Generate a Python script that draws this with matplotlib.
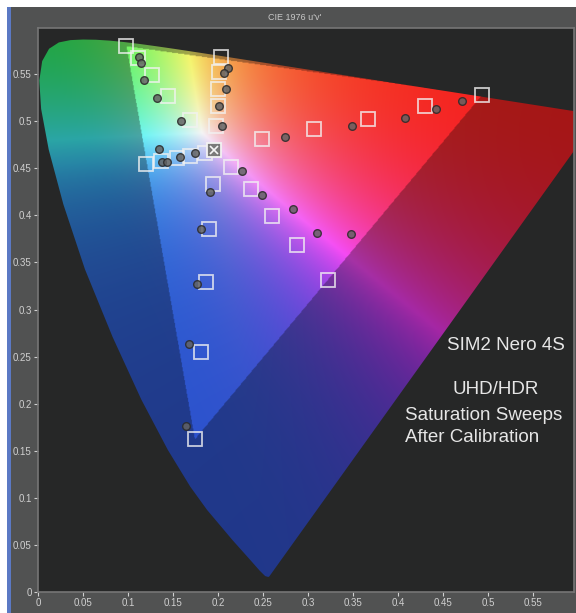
import numpy as np
import matplotlib
matplotlib.use("Agg")
import matplotlib.pyplot as plt
from matplotlib.patches import Polygon, Rectangle
from matplotlib.path import Path

# CIE 1931 2-degree spectral locus (x, y), converted to u'v' below
wavelengths = [380, 400, 420, 430, 440, 450, 460, 465, 470, 475, 480, 485, 490, 495,
               500, 505, 510, 515, 520, 525, 530, 535, 540, 545, 550, 555, 560, 565,
               570, 575, 580, 585, 590, 595, 600, 610, 620, 630, 640, 650, 660, 680, 700]
locus_x = [0.1741, 0.1733, 0.1714, 0.1689, 0.1644, 0.1566, 0.1440, 0.1355, 0.1241, 0.1096,
           0.0913, 0.0687, 0.0454, 0.0235, 0.0082, 0.0039, 0.0139, 0.0389, 0.0743, 0.1142,
           0.1547, 0.1929, 0.2296, 0.2658, 0.3016, 0.3373, 0.3731, 0.4087, 0.4441, 0.4788,
           0.5125, 0.5448, 0.5752, 0.6029, 0.6270, 0.6658, 0.6915, 0.7079, 0.7190, 0.7260,
           0.7300, 0.7334, 0.7347]
locus_y = [0.0050, 0.0048, 0.0051, 0.0069, 0.0109, 0.0177, 0.0297, 0.0399, 0.0578, 0.0868,
           0.1327, 0.2007, 0.2950, 0.4127, 0.5384, 0.6548, 0.7502, 0.8120, 0.8338, 0.8262,
           0.8059, 0.7816, 0.7543, 0.7243, 0.6923, 0.6589, 0.6245, 0.5896, 0.5547, 0.5202,
           0.4866, 0.4544, 0.4242, 0.3965, 0.3725, 0.3340, 0.3083, 0.2920, 0.2809, 0.2740,
           0.2700, 0.2666, 0.2653]

# Targets (squares), saturation sweeps 100% -> 20%
tgt_red_u = [0.493, 0.430, 0.366, 0.306, 0.249]
tgt_red_v = [0.528, 0.516, 0.502, 0.492, 0.481]
tgt_yel_u = [0.203, 0.201, 0.200, 0.200, 0.198]
tgt_yel_v = [0.568, 0.552, 0.534, 0.516, 0.495]
tgt_grn_u = [0.098, 0.111, 0.126, 0.144, 0.169]
tgt_grn_v = [0.580, 0.567, 0.549, 0.527, 0.501]
tgt_cyn_u = [0.120, 0.136, 0.154, 0.169, 0.185]
tgt_cyn_v = [0.455, 0.458, 0.461, 0.4635, 0.466]
tgt_mag_u = [0.322, 0.288, 0.260, 0.236, 0.214]
tgt_mag_v = [0.331, 0.369, 0.399, 0.428, 0.451]
tgt_blu_u = [0.174, 0.181, 0.187, 0.190, 0.194]
tgt_blu_v = [0.162, 0.255, 0.329, 0.386, 0.433]
white_u, white_v = 0.1956, 0.4691

# Measurements (circles)
meas_red_u = [0.471, 0.442, 0.407, 0.349, 0.274]
meas_red_v = [0.522, 0.513, 0.503, 0.495, 0.483]
meas_yel_u = [0.211, 0.206, 0.209, 0.201, 0.204]
meas_yel_v = [0.557, 0.551, 0.534, 0.516, 0.495]
meas_grn_u = [0.112, 0.114, 0.118, 0.132, 0.159]
meas_grn_v = [0.568, 0.562, 0.544, 0.525, 0.500]
meas_cyn_u = [0.134, 0.138, 0.143, 0.158, 0.174]
meas_cyn_v = [0.470, 0.457, 0.457, 0.462, 0.466]
meas_mag_u = [0.347, 0.310, 0.283, 0.249, 0.227]
meas_mag_v = [0.380, 0.381, 0.407, 0.422, 0.447]
meas_blu_u = [0.164, 0.168, 0.177, 0.181, 0.191]
meas_blu_v = [0.176, 0.263, 0.327, 0.385, 0.425]

x_ticks = [0, 0.05, 0.1, 0.15, 0.2, 0.25, 0.3, 0.35, 0.4, 0.45, 0.5, 0.55]
x_tick_labels = ['0', '0.05', '0.1', '0.15', '0.2', '0.25', '0.3', '0.35', '0.4', '0.45', '0.5', '0.55']
y_ticks = [0, 0.05, 0.1, 0.15, 0.2, 0.25, 0.3, 0.35, 0.4, 0.45, 0.5, 0.55]
y_tick_labels = ['0', '0.05', '0.1', '0.15', '0.2', '0.25', '0.3', '0.35', '0.4', '0.45', '0.5', '0.55']

title = "CIE 1976 u'v'"
notes = ["SIM2 Nero 4S", "UHD/HDR", "Saturation Sweeps", "After Calibration"]

# ---------------------------------------------------------------------------
W, H = 576, 613
fig = plt.figure(figsize=(W / 100, H / 100), dpi=100, facecolor='white')

# outer frame
fig.patches.append(Rectangle((11 / W, 0), 1 - 11 / W, 1 - 7 / H, transform=fig.transFigure,
                             facecolor='#515252', edgecolor='none', zorder=-10))
fig.patches.append(Rectangle((7 / W, 0), 4 / W, 1 - 7 / H, transform=fig.transFigure,
                             facecolor='#5b79c4', edgecolor='none', zorder=-10))
fig.text(295 / W, 1 - 18 / H, title, color='#c8c8c8', fontsize=6.5,
         ha='center', va='center', family='Liberation Sans')

ax = fig.add_axes([38 / W, 21 / H, 536 / W, 564 / H])
ax.set_zorder(1)
ax.set_facecolor('#262727')
XMAX, YMAX = 0.595, 0.599
ax.set_xlim(0, XMAX)
ax.set_ylim(0, YMAX)

lx = np.array(locus_x)
ly = np.array(locus_y)
den = -2 * lx + 12 * ly + 3
lu = 4 * lx / den
lv = 9 * ly / den

# colour field: barycentric mixing of three pseudo-primaries enclosing the locus
n = 700
uu, vv = np.meshgrid(np.linspace(0, XMAX, n), np.linspace(0, YMAX, n))
prim = np.array([[0.66, -0.02, 0.262],   # u' of R, G, B
                 [0.51, 0.63, -0.03],     # v' of R, G, B
                 [1.0, 1.0, 1.0]])
Pinv = np.linalg.inv(prim)
pts = np.stack([uu, vv, np.ones_like(uu)], axis=-1)
wts = pts @ Pinv.T
w_white = Pinv @ np.array([white_u, white_v, 1.0])
rgb = wts / w_white
rgb = np.clip(rgb, 0, None)
rgb = rgb / np.maximum(rgb.max(axis=-1, keepdims=True), 1e-9)
rgb = np.power(rgb, 1.7)
tint = np.array([[1.00, 0.06, 0.06],
                 [0.12, 0.90, 0.28],
                 [0.10, 0.12, 1.00]])
disp = rgb @ tint
blue_dom = np.clip(rgb[..., 2] - np.maximum(rgb[..., 0], rgb[..., 1]), 0, 1)
disp[..., 0] += 0.06 * blue_dom ** 2
disp[..., 1] += 0.22 * blue_dom ** 2
disp = disp / np.maximum(disp.max(axis=-1, keepdims=True), 1e-9)
disp = disp * (1 - 0.18 * blue_dom)[..., None]

tri = Path([(tgt_grn_u[0], tgt_grn_v[0]), (tgt_red_u[0], tgt_red_v[0]),
            (tgt_blu_u[0], tgt_blu_v[0])])
inside = tri.contains_points(np.column_stack([uu.ravel(), vv.ravel()])).reshape(uu.shape)
out_rgb = disp * 0.6 + 0.05
in_rgb = disp * 0.9 + 0.06
img = np.clip(np.where(inside[..., None], in_rgb, out_rgb), 0, 1)

im = ax.imshow(img, origin='lower', extent=(0, XMAX, 0, YMAX), aspect='auto',
               interpolation='bilinear', zorder=1)
locus_patch = Polygon(np.column_stack([lu, lv]), closed=True, facecolor='none',
                      edgecolor='none', transform=ax.transData)
ax.add_patch(locus_patch)
im.set_clip_path(locus_patch)

# markers
sq_kw = dict(marker='s', markersize=9.5, markerfacecolor='none', markeredgecolor='#f2f2f2',
             markeredgewidth=1.3, linestyle='none', alpha=0.8, zorder=4)
ci_kw = dict(marker='o', markersize=5.5, markerfacecolor='#636363', markeredgecolor='#2a2a2a',
             markeredgewidth=1.0, linestyle='none', alpha=0.85, zorder=5)
for us, vs in [(tgt_red_u, tgt_red_v), (tgt_yel_u, tgt_yel_v), (tgt_grn_u, tgt_grn_v),
               (tgt_cyn_u, tgt_cyn_v), (tgt_mag_u, tgt_mag_v), (tgt_blu_u, tgt_blu_v)]:
    ax.plot(us, vs, **sq_kw)
for us, vs in [(meas_red_u, meas_red_v), (meas_yel_u, meas_yel_v), (meas_grn_u, meas_grn_v),
               (meas_cyn_u, meas_cyn_v), (meas_mag_u, meas_mag_v), (meas_blu_u, meas_blu_v)]:
    ax.plot(us, vs, **ci_kw)
ax.plot([white_u], [white_v], marker='s', markersize=9.5, markerfacecolor='#7a7a7a',
        markeredgecolor='#f2f2f2', markeredgewidth=1.3, linestyle='none', zorder=6)
ax.plot([white_u], [white_v], marker='x', markersize=6, markeredgecolor='#f5f5f5',
        markeredgewidth=1.2, linestyle='none', zorder=7)

# annotation text
tkw = dict(color='#e6e6e6', fontsize=13.5, family='Liberation Sans', transform=ax.transAxes,
           ha='left', va='baseline')
def ax_pt(px, py):
    return ((px - 38) / 536, (592 - py) / 564)
ax.text(*ax_pt(447, 350), notes[0], **tkw)
ax.text(*ax_pt(452, 394), notes[1], **tkw)
ax.text(*ax_pt(405, 420), notes[2], **tkw)
ax.text(*ax_pt(405, 442), notes[3], **tkw)

ax.set_xticks(x_ticks)
ax.set_xticklabels(x_tick_labels)
ax.set_yticks(y_ticks)
ax.set_yticklabels(y_tick_labels)
ax.tick_params(colors='#d0d0d0', labelsize=7, length=3, width=0.8, pad=1.5)
for lab in ax.get_xticklabels() + ax.get_yticklabels():
    lab.set_family('Liberation Sans')
for s in ax.spines.values():
    s.set_color('#767676')
    s.set_linewidth(1.2)

fig.savefig('out.png', dpi=100, facecolor='white')
